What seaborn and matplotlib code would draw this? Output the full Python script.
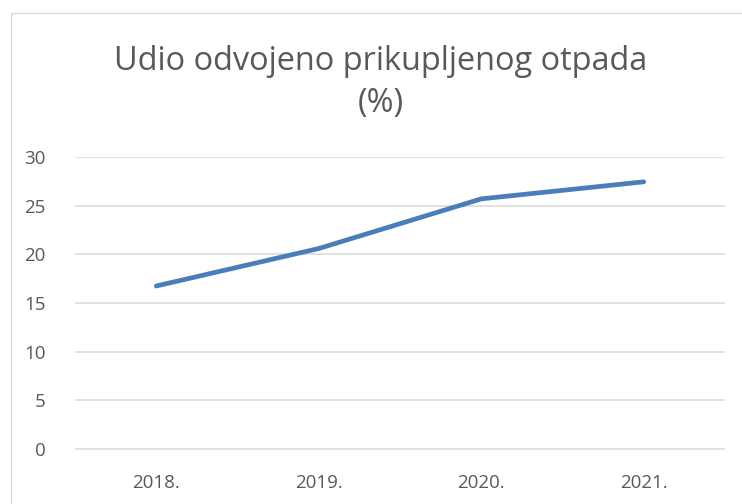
import matplotlib
matplotlib.use("Agg")
import matplotlib.pyplot as plt
import seaborn as sns
import pandas as pd
from matplotlib.patches import Rectangle

years = ["2018.", "2019.", "2020.", "2021."]
values = [16.75, 20.6, 25.7, 27.45]
yticks = [0, 5, 10, 15, 20, 25, 30]
title_line1 = "Udio odvojeno prikupljenog otpada"
title_line2 = "(%)"

sns.set_theme(style="white")
plt.rcParams['font.family'] = ['Open Sans', 'DejaVu Sans']

df = pd.DataFrame({"year": years, "value": values})

fig = plt.figure(figsize=(7.42, 5.04), dpi=100)
W, H = 742, 504
ax = fig.add_axes([75 / W, 1 - 452 / H, 650 / W, (452 - 157) / H])

sns.lineplot(data=df, x="year", y="value", ax=ax, color="#4A7EBB",
             linewidth=3.4, solid_capstyle="round", sort=False)

ax.set_xlim(-0.5, 3.5)
ax.set_ylim(-0.3, 30)
ax.set_yticks(yticks)
ax.set_yticklabels([str(t) for t in yticks])
ax.hlines(yticks, -0.5, 3.5, color="#D9D9D9", linewidth=1.1, zorder=0)
for s in ax.spines.values():
    s.set_visible(False)
ax.set_xlabel("")
ax.set_ylabel("")
ax.tick_params(axis="both", length=0, labelsize=13.5, labelcolor="#595959")
ax.tick_params(axis="y", pad=21)
ax.tick_params(axis="x", pad=16)

fig.text(381 / W, 1 - 62 / H, title_line1, ha="center",
         va="center", fontsize=23.4, color="#595959")
fig.text(381 / W, 1 - 104 / H, title_line2, ha="center",
         va="center", fontsize=23.4, color="#595959")

fig.patches.append(Rectangle((11 / W, -0.1), 1.2, 1 - 13 / H + 0.1,
                             transform=fig.transFigure, fill=False,
                             edgecolor="#D9D9D9", linewidth=1.0))

fig.savefig("out.png", dpi=100, facecolor="white")
